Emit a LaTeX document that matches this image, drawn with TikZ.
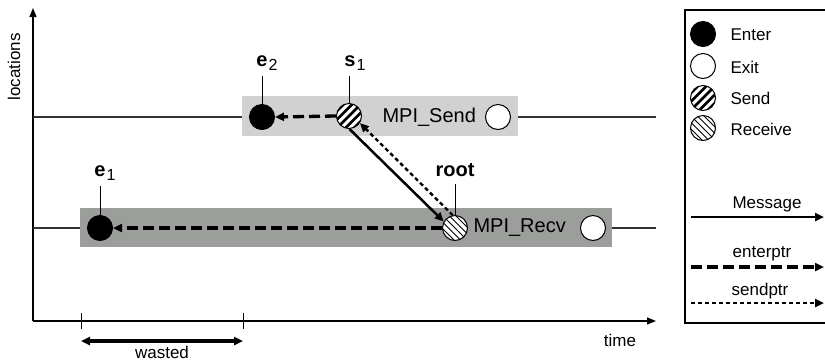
\documentclass[tikz,border=0pt]{standalone}
\usepackage{fontspec}
\setmainfont{Liberation Sans}
\usetikzlibrary{arrows.meta}
\begin{document}
\begin{tikzpicture}[x=1pt,y=-1pt,
  ev/.style={circle,draw,line width=1pt,minimum size=25pt,inner sep=0pt},
  enterc/.style={ev,fill=black},
  exitc/.style={ev,fill=white},
  sendc/.style={ev,fill=white,path picture={\foreach \i in {-4,...,4}{\draw[line width=2.7pt] ([xshift=\i*8.5pt]path picture bounding box.center) ++(-20pt,-20pt) -- ++(40pt,40pt);}}},
  recvc/.style={ev,fill=white,path picture={\foreach \i in {-6,...,6}{\draw[line width=0.8pt] ([xshift=\i*6.5pt]path picture bounding box.center) ++(-20pt,20pt) -- ++(40pt,-40pt);}}},
  big/.style={font=\fontsize{20}{20}\selectfont},
  mid/.style={font=\fontsize{17}{17}\selectfont},
  lbl/.style={font=\fontsize{20}{20}\selectfont\bfseries},
  tip/.style={-{Triangle[length=9pt,width=8pt]}},
  msg/.style={tip,line width=2.5pt},
  entp/.style={tip,line width=3.3pt,dash pattern=on 11pt off 5pt},
  sndp/.style={tip,line width=2.4pt,dash pattern=on 4pt off 3pt},
  stem/.style={line width=1pt},
  upbox/.style={fill=black!18},
  lowbox/.style={fill={rgb,255:red,155;green,158;blue,154}}
]
\useasboundingbox (0,0) rectangle (825,360);

% axes
\coordinate (o) at (33,321);
\coordinate (ytop) at (33,8);
\coordinate (xend) at (656,321);
\draw[line width=1.3pt,-{Triangle[length=9pt,width=7pt]}] (o) -- (ytop);
\draw[line width=1.3pt,-{Triangle[length=9pt,width=7pt]}] (o) -- (xend);
\node[mid,rotate=90] (loc) at (14,67) {locations};
\node[mid] (time) at (620,340) {time};

% location lines
\coordinate (l1a) at (33,117);
\coordinate (l1b) at (656,117);
\coordinate (l2a) at (33,228);
\coordinate (l2b) at (656,228);
\draw[line width=1.1pt,black!80] (l1a) -- (l1b);
\draw[line width=1.1pt,black!80] (l2a) -- (l2b);

% boxes
\fill[upbox] (242,96) rectangle (518,136);
\fill[lowbox] (80,208) rectangle (612,247);

% upper events
\node[enterc] (e2) at (262,117) {};
\node[sendc] (s1) at (349,116) {};
\node[big,anchor=west] (sendtxt) at (379,117) {MPI\_Send};
\node[exitc] (x2) at (498,117) {};
\node[lbl] (e2l) at (262,63) {e\rlap{\mdseries\fontsize{16}{16}\selectfont\kern1pt\raisebox{-4pt}{2}}};
\node[lbl] (s1l) at (350,63) {s\rlap{\mdseries\fontsize{16}{16}\selectfont\kern1pt\raisebox{-4pt}{1}}};
\coordinate (e2s) at (262,76);
\coordinate (s1s) at (349,76);
\draw[stem] (e2s) -- (e2.north);
\draw[stem] (s1s) -- (s1.north);

% lower events
\node[enterc] (e1) at (100,228) {};
\node[recvc] (root) at (455,228) {};
\node[big,anchor=west] (recvtxt) at (470,228) {MPI\_Recv};
\node[exitc] (x1) at (593,228) {};
\node[lbl] (e1l) at (100,173) {e\rlap{\mdseries\fontsize{16}{16}\selectfont\kern1pt\raisebox{-4pt}{1}}};
\node[lbl] (rootl) at (455,170) {root};
\coordinate (e1s) at (100,186);
\coordinate (roots) at (455,184);
\draw[stem] (e1s) -- (e1.north);
\draw[stem] (roots) -- (root.north);

% pointers
\draw[entp] (s1.west) -- (e2.east);
\draw[entp] (root.west) -- (e1.east);
\draw[msg] (s1.-88) -- (root.150);
\draw[line width=1.2pt,shorten >=6pt] (s1.-88) -- (root.150);
\draw[sndp] (root.100) -- (s1.-33);

% wasted
\coordinate (t1a) at (81,313);
\coordinate (t1b) at (81,329);
\coordinate (t2a) at (243,313);
\coordinate (t2b) at (243,329);
\draw[line width=1pt] (t1a) -- (t1b);
\draw[line width=1pt] (t2a) -- (t2b);
\coordinate (w1) at (81,341);
\coordinate (w2) at (243,341);
\draw[line width=3.2pt,{Triangle[length=9pt,width=8pt]}-{Triangle[length=9pt,width=8pt]}] (w1) -- (w2);
\node[mid,inner sep=0pt] (wasted) at (162,352) {wasted};

% legend
\draw[line width=1.2pt] (685,10) rectangle (840,323);
\node[enterc] (le) at (703,34) {};
\node[exitc] (lx) at (703,66) {};
\node[sendc] (ls) at (703,98) {};
\node[recvc] (lr) at (703,128) {};
\node[mid,anchor=west] (lte) at (727,35) {Enter};
\node[mid,anchor=west] (ltx) at (727,67) {Exit};
\node[mid,anchor=west] (lts) at (727,98) {Send};
\node[mid,anchor=west] (ltr) at (727,129) {Receive};
\coordinate (m1) at (691,217);
\coordinate (m2) at (824,217);
\draw[msg] (m1) -- (m2);
\node[mid] (mtxt) at (767,204) {Message};
\coordinate (n1) at (691,267);
\coordinate (n2) at (824,267);
\draw[entp] (n1) -- (n2);
\node[mid] (ntxt) at (762,254) {enterptr};
\coordinate (p1) at (691,303);
\coordinate (p2) at (824,303);
\draw[sndp] (p1) -- (p2);
\node[mid] (ptxt) at (760,291) {sendptr};
\end{tikzpicture}
\end{document}
